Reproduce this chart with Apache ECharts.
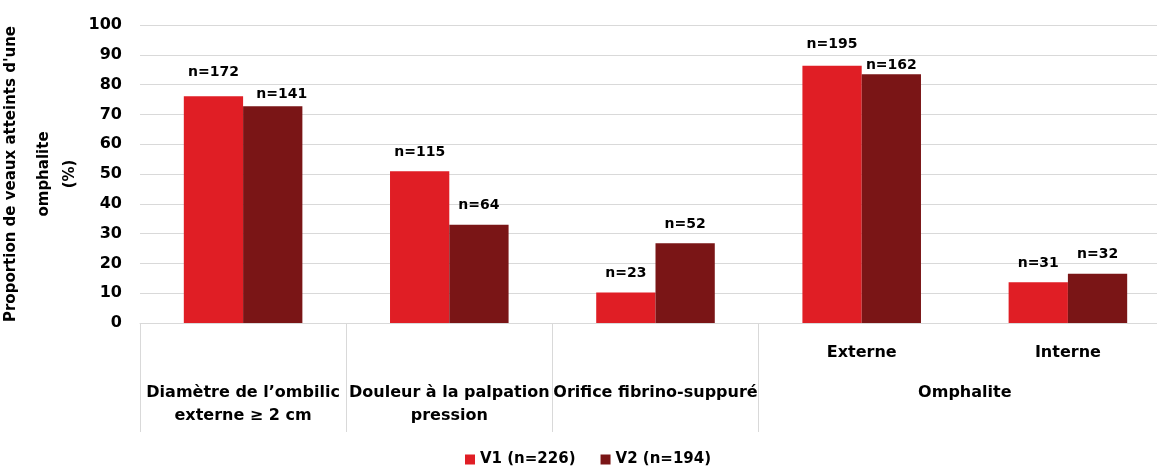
<!DOCTYPE html>
<html>
<head>
<meta charset="utf-8">
<script src="https://cdn.jsdelivr.net/npm/echarts@6/dist/echarts.min.js"></script>
<style>
  html, body { margin: 0; padding: 0; background: #fff; }
  #chart { width: 1157px; height: 467px; }
</style>
</head>
<body>
<div id="chart"></div>
<script>
// catégories (niveau 1) et groupes (niveau 2)
var categories = ['Diamètre', 'Douleur', 'Orifice', 'Externe', 'Interne'];
var subLabels = ['', '', '', 'Externe', 'Interne'];
var groupLabels = ['Diamètre de l’ombilic\nexterne ≥ 2 cm', 'Douleur à la palpation\npression', 'Orifice fibrino-suppuré', 'Omphalite'];
var groupCenters = [0.5, 1.5, 2.5, 4];
var groupBounds = [0, 1, 2, 3];

var v1Values = [76.1, 50.9, 10.2, 86.3, 13.7];
var v2Values = [72.7, 33.0, 26.8, 83.5, 16.5];
var v1Labels = ['n=172', 'n=115', 'n=23', 'n=195', 'n=31'];
var v2Labels = ['n=141', 'n=64', 'n=52', 'n=162', 'n=32'];
var seriesNames = ['V1 (n=226)', 'V2 (n=194)'];

var FONT = 'DejaVu Sans';
var RED = '#e01e25';
var DARK = '#7a1516';

function EChart_Bar(DivID) {
    var myChart = echarts.init(document.getElementById(DivID));

    // petits décalages des étiquettes comme sur l'original
    var v1Dist = [17, 12, 12, 14, 12];
    var v2Dist = [5, 12, 12, 2, 12];
    var v2Dx = [9, 0, 0, 0, 0];

    function mkData(vals, labels, dist, dx) {
        return vals.map(function (v, i) {
            return {
                value: v,
                label: { formatter: labels[i], distance: dist[i], offset: [dx ? dx[i] : 0, 0] }
            };
        });
    }

    var labelStyle = {
        show: true,
        position: 'top',
        color: '#000',
        fontFamily: FONT,
        fontWeight: 'bold',
        fontSize: 14
    };

    var nameFont = { fontFamily: FONT, fontWeight: 'bold', fontSize: 15, color: '#000' };

    option = {
        animation: false,
        textStyle: { fontFamily: FONT },
        // le graphique d'origine est rogné à droite
        grid: { left: 140, right: -14, top: 25, bottom: 144, outerBoundsMode: 'none', containLabel: false },
        legend: {
            top: 447,
            left: 460,
            icon: 'rect',
            itemWidth: 10,
            itemHeight: 10,
            itemGap: 25,
            textStyle: { fontFamily: FONT, fontWeight: 'bold', fontSize: 15, color: '#000' },
            data: seriesNames
        },
        xAxis: [
            {
                type: 'category',
                data: categories,
                axisLine: { show: true, lineStyle: { color: '#d9d9d9', width: 1 } },
                axisTick: { show: false },
                axisLabel: {
                    margin: 22,
                    color: '#000',
                    fontFamily: FONT,
                    fontWeight: 'bold',
                    fontSize: 16,
                    formatter: function (val, idx) { return subLabels[idx]; }
                }
            },
            {
                type: 'value',
                position: 'bottom',
                min: 0,
                max: 5,
                axisLine: { show: false },
                splitLine: { show: false },
                axisTick: {
                    show: true,
                    customValues: groupBounds,
                    length: 109,
                    lineStyle: { color: '#d9d9d9', width: 1 }
                },
                axisLabel: {
                    customValues: groupCenters,
                    margin: 58,
                    color: '#000',
                    fontFamily: FONT,
                    fontWeight: 'bold',
                    fontSize: 16,
                    lineHeight: 23,
                    verticalAlign: 'top',
                    formatter: function (val) {
                        var i = groupCenters.indexOf(val);
                        return i >= 0 ? groupLabels[i] : '';
                    }
                }
            }
        ],
        yAxis: [
            {
                type: 'value',
                min: 0,
                max: 100,
                interval: 10,
                name: '{a|Proportion de veaux atteints d\'une}\n{b|omphalite}\n{c|(%)}',
                nameLocation: 'middle',
                nameRotate: 90,
                nameGap: 48,
                nameTextStyle: {
                    rich: {
                        a: Object.assign({ lineHeight: 40 }, nameFont),
                        b: Object.assign({ lineHeight: 26 }, nameFont),
                        c: Object.assign({ lineHeight: 26 }, nameFont)
                    }
                },
                axisLine: { show: false },
                axisTick: { show: false },
                axisLabel: {
                    margin: 18,
                    color: '#000',
                    fontFamily: FONT,
                    fontWeight: 'bold',
                    fontSize: 16
                },
                splitLine: { lineStyle: { color: '#d9d9d9', width: 1 } }
            }
        ],
        series: [
            {
                name: seriesNames[0],
                type: 'bar',
                xAxisIndex: 0,
                barGap: '0%',
                barCategoryGap: '42.5%',
                itemStyle: { color: RED },
                label: labelStyle,
                data: mkData(v1Values, v1Labels, v1Dist)
            },
            {
                name: seriesNames[1],
                type: 'bar',
                xAxisIndex: 0,
                barGap: '0%',
                barCategoryGap: '42.5%',
                itemStyle: { color: DARK },
                label: labelStyle,
                data: mkData(v2Values, v2Labels, v2Dist, v2Dx)
            }
        ]
    };
    myChart.setOption(option);
}

EChart_Bar('chart');
</script>
</body>
</html>
